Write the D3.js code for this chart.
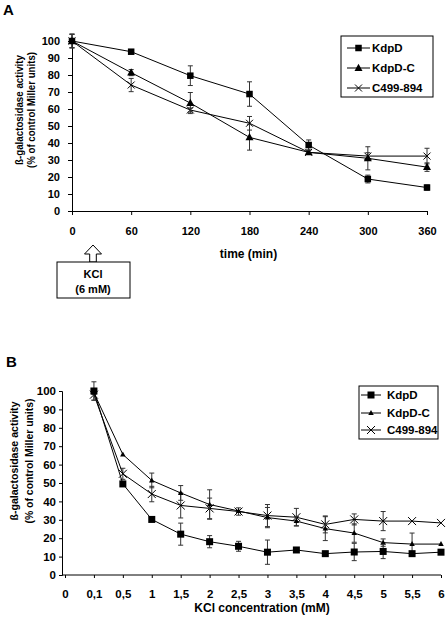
<!DOCTYPE html>
<html><head><meta charset="utf-8">
<script src="https://cdn.jsdelivr.net/npm/d3@7"></script>
<style>
html,body{margin:0;padding:0;background:#fff;}
svg{display:block;font-family:"Liberation Sans",Arial,sans-serif;font-weight:bold;}
</style></head>
<body><svg id="c" width="448" height="620"></svg>
<script>
// ---------- Panel A data ----------
const timesA = [0, 60, 120, 180, 240, 300, 360];
const xTicksA = [0, 60, 120, 180, 240, 300, 360];
const yTicks = [0, 10, 20, 30, 40, 50, 60, 70, 80, 90, 100];
const kdpdA = [100, 93.7, 79.6, 68.8, 38.8, 18.8, 13.8];
const kdpdAerr = [4, 1, 5.8, 7.2, 3, 2.3, 1.5];
const kdpdCA = [100, 81.4, 63.5, 43.3, 34.5, 31, 25.8];
const kdpdCAerr = [4, 1.8, 6.2, 7.5, 1.2, 6.8, 2.5];
const c499A = [100, 74.1, 59.4, 51.6, 34.5, 32.3, 32.3];
const c499Aerr = [4, 3.9, 1.2, 4, 1.2, 2, 4.6];
// ---------- Panel B data ----------
const concB = ["0", "0,1", "0,5", "1", "1,5", "2", "2,5", "3", "3,5", "4", "4,5", "5", "5,5", "6"];
const kdpdB = [null, 100, 49.5, 30.2, 22.2, 18.1, 15.6, 12.4, 13.6, 11.6, 12.5, 12.8, 11.6, 12.4];
const kdpdBerr = [null, 5, 0, 0, 6, 3.3, 2.7, 6.6, 0, 0, 4.7, 3.9, 0, 0];
const kdpdCB = [null, 99, 65.5, 51.4, 44.6, 38.3, 34.8, 31.2, 29.3, 25.2, 22.8, 17.6, 16.8, 16.8];
const kdpdCBerr = [null, 0, 0, 4, 4, 8, 0, 5.5, 2.5, 6.5, 5, 2, 6, 0];
const c499B = [null, 98, 55, 44, 37.8, 36.2, 34.5, 32.3, 31.4, 27.5, 30.2, 29.3, 29.3, 28.3];
const c499Berr = [null, 3, 3, 4.2, 6.8, 5.6, 2, 6, 4.8, 4.6, 3, 5.2, 0, 0];
const seriesNames = ["KdpD", "KdpD-C", "C499-894"];
const markerTypes = ["square", "triangle", "cross"];

const svg = d3.select("#c");
const FS = 11;

function marker(g, type, x, y, big) {
  if (type === "square") {
    const s = big ? 6.5 : 7;
    g.append("rect").attr("x", x - s/2).attr("y", y - s/2).attr("width", s).attr("height", s).attr("fill", "#000");
  } else if (type === "triangle") {
    const s = big ? 8 : 5.5;
    const h = s * 0.9;
    g.append("path").attr("d", `M${x},${y - h*0.6}L${x + s/2},${y + h*0.4}L${x - s/2},${y + h*0.4}Z`).attr("fill", "#000");
  } else {
    const s = big ? 3.5 : 4;
    g.append("path").attr("d", `M${x-s},${y-s}L${x+s},${y+s}M${x-s},${y+s}L${x+s},${y-s}`).attr("stroke", "#000").attr("stroke-width", 1).attr("fill", "none");
  }
}

function drawSeries(g, xs, vals, errs, x, y, type, big) {
  const pts = [];
  vals.forEach((v, i) => { if (v !== null) pts.push([x(xs[i]), y(v), errs[i], v]); });
  // error bars
  pts.forEach(([px, py, e, v]) => {
    if (!e) return;
    const y1 = y(v + e), y2 = y(v - e);
    g.append("line").attr("x1", px).attr("x2", px).attr("y1", y1).attr("y2", y2).attr("stroke", "#333").attr("stroke-width", 1);
    [y1, y2].forEach(yy => g.append("line").attr("x1", px - 2.5).attr("x2", px + 2.5).attr("y1", yy).attr("y2", yy).attr("stroke", "#333").attr("stroke-width", 1));
  });
  g.append("path").attr("d", d3.line()(pts.map(p => [p[0], p[1]]))).attr("fill", "none").attr("stroke", "#000").attr("stroke-width", 1);
  pts.forEach(([px, py]) => marker(g, type, px, py, big));
}

function legend(g, x0, y0, w, h, rows, lx1, lx2, tx, big) {
  g.append("rect").attr("x", x0).attr("y", y0).attr("width", w).attr("height", h).attr("fill", "#fff").attr("stroke", "#000").attr("stroke-width", 1);
  rows.forEach((ry, i) => {
    g.append("line").attr("x1", lx1).attr("x2", lx2).attr("y1", ry).attr("y2", ry).attr("stroke", "#000");
    marker(g, markerTypes[i], (lx1 + lx2) / 2, ry, big);
    g.append("text").attr("x", tx).attr("y", ry + 4).attr("font-size", 11.5).text(seriesNames[i]);
  });
}

function yTitle(g, cx1, cx2, cy, len1, len2) {
  g.append("text").attr("transform", `translate(${cx1 + 4},${cy}) rotate(-90)`).attr("text-anchor", "middle")
    .attr("font-size", FS).attr("textLength", len1).attr("lengthAdjust", "spacingAndGlyphs").text("ß-galactosidase activity");
  g.append("text").attr("transform", `translate(${cx2 + 4},${cy}) rotate(-90)`).attr("text-anchor", "middle")
    .attr("font-size", FS).attr("textLength", len2).attr("lengthAdjust", "spacingAndGlyphs").text("(% of control Miller units)");
}

// ================= Panel A =================
const gA = svg.append("g");
const xA = d3.scaleLinear().domain([0, 360]).range([72, 427]);
const yA = d3.scaleLinear().domain([0, 100]).range([211, 41]);

gA.append("text").attr("x", 3).attr("y", 15).attr("font-size", 15).text("A");

const axAx = gA.append("g").attr("transform", "translate(0,211)")
  .call(d3.axisBottom(xA).tickValues(xTicksA).tickSize(4).tickPadding(12).tickFormat(d3.format("d")));
const axAy = gA.append("g").attr("transform", "translate(72,0)")
  .call(d3.axisLeft(yA).tickValues(yTicks).tickSize(4).tickPadding(8).tickFormat(d3.format("d")));
[axAx, axAy].forEach(a => { a.selectAll("text").attr("font-size", FS).attr("font-family", "Liberation Sans, Arial, sans-serif").attr("font-weight", "bold").attr("fill", "#000"); a.selectAll("line,path").attr("stroke", "#000"); });

gA.append("text").attr("x", 248.5).attr("y", 258).attr("text-anchor", "middle").attr("font-size", 12).text("time (min)");
yTitle(gA, 19, 31, 110, 110, 116);

drawSeries(gA, timesA, c499A, c499Aerr, xA, yA, "cross", true);
drawSeries(gA, timesA, kdpdCA, kdpdCAerr, xA, yA, "triangle", true);
drawSeries(gA, timesA, kdpdA, kdpdAerr, xA, yA, "square", true);

legend(gA, 341, 36, 92, 61, [48, 68, 88], 347, 370, 372, true);

// KCl annotation box with hollow arrow
const ax = 93;
gA.append("path").attr("d", `M${ax},245 L${ax + 8.5},254 L${ax + 3.3},254 L${ax + 3.3},262 L${ax - 3.3},262 L${ax - 3.3},254 L${ax - 8.5},254 Z`)
  .attr("fill", "#fff").attr("stroke", "#000").attr("stroke-width", 1);
gA.append("rect").attr("x", 57).attr("y", 262).attr("width", 73).attr("height", 36).attr("fill", "#fff").attr("stroke", "#000").attr("stroke-width", 1);
gA.append("text").attr("x", ax).attr("y", 278).attr("text-anchor", "middle").attr("font-size", FS).text("KCl");
gA.append("text").attr("x", ax).attr("y", 292.5).attr("text-anchor", "middle").attr("font-size", FS).text("(6 mM)");

// ================= Panel B =================
const gB = svg.append("g");
const xB = d3.scalePoint().domain(concB).range([65, 441]);
const yB = d3.scaleLinear().domain([0, 100]).range([575, 391]);

gB.append("text").attr("x", 6).attr("y", 367).attr("font-size", 15).text("B");

const axBx = gB.append("g").attr("transform", "translate(0,575)")
  .call(d3.axisBottom(xB).tickSize(3).tickPadding(12).tickSizeOuter(0));
axBx.select(".domain").attr("d", "M62,0H441");
const axBy = gB.append("g").attr("transform", "translate(62,0)")
  .call(d3.axisLeft(yB).tickValues(yTicks).tickSize(3).tickPadding(3).tickFormat(d3.format("d")));
[axBx, axBy].forEach(a => { a.selectAll("text").attr("font-size", FS + 0.5).attr("font-family", "Liberation Sans, Arial, sans-serif").attr("font-weight", "bold").attr("fill", "#000"); a.selectAll("line,path").attr("stroke", "#000"); });

gB.append("text").attr("x", 262).attr("y", 612).attr("text-anchor", "middle").attr("font-size", 12).text("KCl concentration (mM)");
yTitle(gB, 14, 29, 461, 119, 125);

drawSeries(gB, concB, c499B, c499Berr, xB, yB, "cross", false);
drawSeries(gB, concB, kdpdCB, kdpdCBerr, xB, yB, "triangle", false);
drawSeries(gB, concB, kdpdB, kdpdBerr, xB, yB, "square", false);

legend(gB, 359, 386, 79, 53, [395, 413, 430], 361, 381, 387, false);
</script></body></html>
